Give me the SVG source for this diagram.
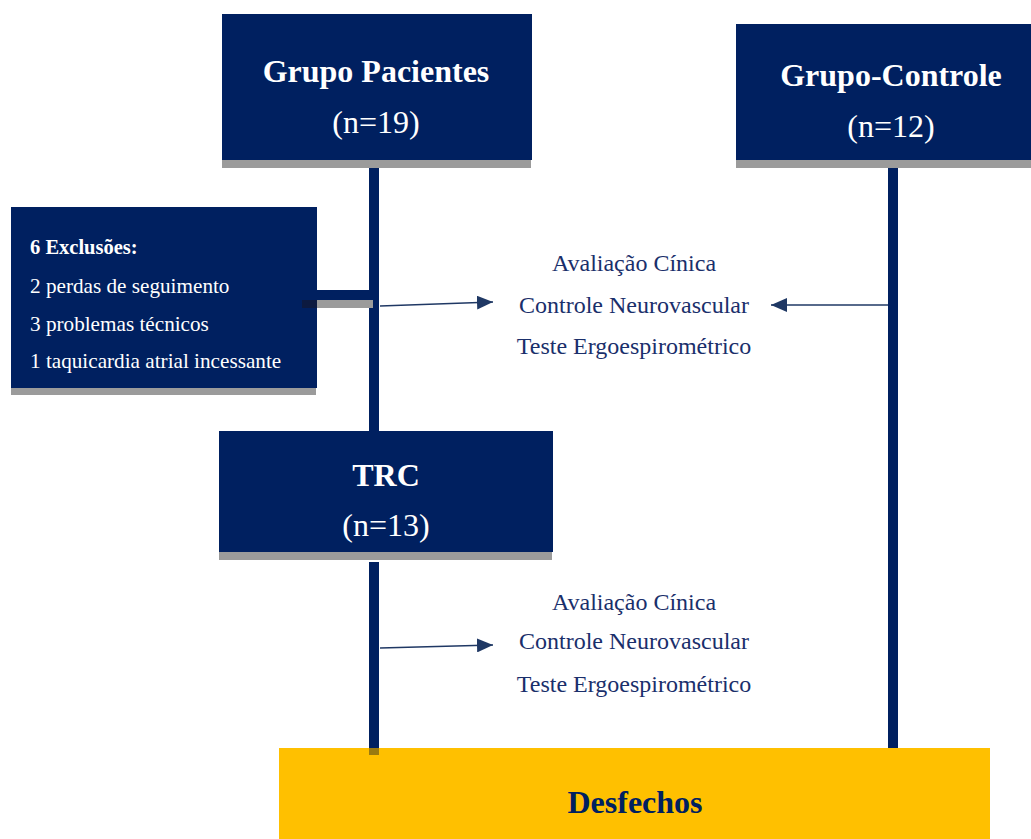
<svg xmlns="http://www.w3.org/2000/svg" width="1031" height="839" viewBox="0 0 1031 839">
<defs>
<style>
.box{fill:#002060}
.shadow{fill:#9b9b9b}
.title{font-family:"Liberation Serif",serif;font-weight:bold;font-size:32px;fill:#ffffff;text-anchor:middle}
.count{font-family:"Liberation Serif",serif;font-size:32px;fill:#ffffff;text-anchor:middle}
.exc{font-family:"Liberation Serif",serif;font-size:21.2px;fill:#ffffff}
.excb{font-family:"Liberation Serif",serif;font-size:20.5px;font-weight:bold;fill:#ffffff}
.mid{font-family:"Liberation Serif",serif;font-size:24px;fill:#1a2f6b;text-anchor:middle}
.bar{fill:#002060}
.arrow{stroke:#1f3864;stroke-width:1.5;fill:none}
</style>
<marker id="ah" viewBox="0 0 16 14" refX="16" refY="7" markerWidth="16" markerHeight="14" markerUnits="userSpaceOnUse" orient="auto">
<path d="M0,0 L16,7 L0,14 Z" fill="#1f3864"/>
</marker>
</defs>
<rect width="1031" height="839" fill="#ffffff"/>

<g id="connectors">
<rect class="bar" x="369" y="160" width="10" height="276"/>
<rect x="369" y="431" width="10" height="5" fill="#1a2a50"/>
<rect class="bar" x="369" y="562" width="10" height="188"/>
<rect class="bar" x="888" y="165" width="10" height="584"/>
<rect class="shadow" x="302" y="300" width="71" height="8"/>
<rect x="302" y="300" width="15" height="8" fill="#1a2a50"/>
<rect class="bar" x="302" y="290" width="72" height="10"/>
<line class="arrow" x1="380" y1="306" x2="493" y2="302" marker-end="url(#ah)"/>
<line class="arrow" x1="888" y1="305" x2="771" y2="305" marker-end="url(#ah)"/>
<line class="arrow" x1="380" y1="648" x2="493" y2="645" marker-end="url(#ah)"/>
</g>

<g id="grupo-pacientes">
<rect class="shadow" x="222" y="160" width="309" height="8"/>
<rect class="box" x="222" y="14" width="310" height="146"/>
<text class="title" x="376" y="82">Grupo Pacientes</text>
<text class="count" x="376" y="133">(n=19)</text>
</g>

<g id="grupo-controle">
<rect class="shadow" x="736" y="160" width="295" height="8"/>
<rect class="box" x="736" y="24" width="295" height="136"/>
<text class="title" x="891" y="86">Grupo-Controle</text>
<text class="count" x="891" y="137">(n=12)</text>
</g>

<g id="exclusoes">
<rect class="shadow" x="11" y="388" width="305" height="7"/>
<rect class="box" x="11" y="207" width="306" height="181"/>
<text class="excb" x="30" y="254">6 Exclusões:</text>
<text class="exc" x="30" y="293">2 perdas de seguimento</text>
<text class="exc" x="30" y="331">3 problemas técnicos</text>
<text class="exc" x="30" y="368">1 taquicardia atrial incessante</text>
<rect x="302" y="300" width="15" height="8" fill="#0c1a40"/>
</g>

<g id="avaliacao-1">
<text class="mid" x="634" y="271">Avaliação Cínica</text>
<text class="mid" x="634" y="313">Controle Neurovascular</text>
<text class="mid" x="634" y="354">Teste Ergoespirométrico</text>
</g>

<g id="trc">
<rect class="shadow" x="219" y="552" width="333" height="8"/>
<rect class="box" x="219" y="431" width="334" height="121"/>
<text class="title" x="386" y="486">TRC</text>
<text class="count" x="386" y="536">(n=13)</text>
</g>

<g id="avaliacao-2">
<text class="mid" x="634" y="610">Avaliação Cínica</text>
<text class="mid" x="634" y="649">Controle Neurovascular</text>
<text class="mid" x="634" y="692">Teste Ergoespirométrico</text>
</g>

<g id="desfechos">
<rect x="279" y="748" width="711" height="91" fill="#ffc000"/>
<rect x="369" y="748" width="10" height="7" fill="#9a7a10"/>
<text x="635" y="813" font-family="Liberation Serif, serif" font-weight="bold" font-size="32" fill="#002060" text-anchor="middle">Desfechos</text>
</g>
</svg>
